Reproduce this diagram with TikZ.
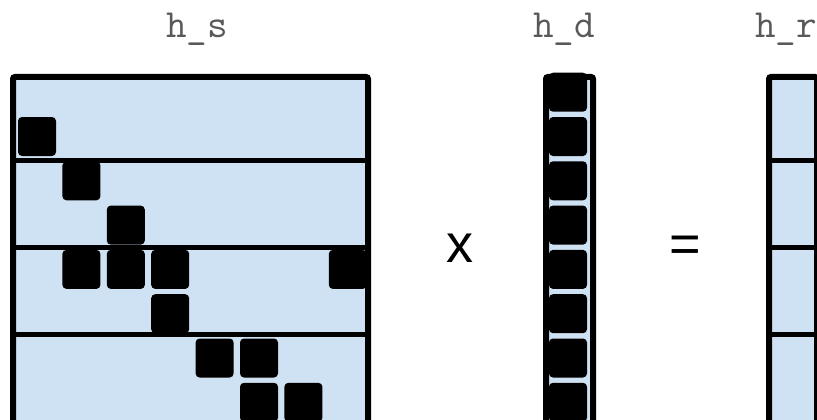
\documentclass[tikz,border=0pt]{standalone}
\usepackage{fontspec}
\newfontfamily\opsans{Liberation Sans}
\definecolor{cellblue}{HTML}{CFE2F3}
\tikzset{
  panelfill/.style={fill=cellblue},
  panelframe/.style={draw=black, line width=6pt, rounded corners=2pt},
  sepline/.style={draw=black, line width=5pt},
  blk/.style={fill=black, rounded corners=4pt},
  lbl/.style={font=\ttfamily\fontsize{40}{40}\selectfont, text=black!65, anchor=base, inner sep=0pt},
  opsym/.style={font=\opsans\fontsize{54}{54}\selectfont, text=black, anchor=base, inner sep=0pt},
}
\begin{document}
\begin{tikzpicture}[x=1pt,y=-1pt]
\useasboundingbox (0,0) rectangle (817,420);
\begin{scope}
\clip (0,0) rectangle (817,420);
% ---- matrix h_s ----
\path[panelfill] (13,77) rectangle (368,440);
\foreach \c/\r in {0/1,1/2,2/3,1/4,2/4,3/4,7/4,3/5,4/6,5/6,5/7,6/7}
  \path[blk] ({18+44.4*\c},{117+44.3*(\r-1)}) rectangle ++(38,39);
\foreach \yy in {160.5,247,334}
  \draw[sepline] (14,\yy) -- (367,\yy);
\draw[panelframe] (13,77) rectangle (368,440);
% ---- vector h_d ----
\path[panelfill] (546,77) rectangle (593,440);
\foreach \r in {0,...,7}
  \path[blk] (549,{117+44.3*(\r-1)}) rectangle ++(38,39);
\draw[panelframe] (546,77) rectangle (593,440);
% ---- vector h_r ----
\path[panelfill] (769,77) rectangle (817,440);
\foreach \yy in {160.5,247,334}
  \draw[sepline] (770,\yy) -- (817,\yy);
\draw[panelframe] (769,77) rectangle (817,440);
\end{scope}
% ---- labels ----
\node[lbl] (hs) at (197,38) {h\_s};
\node[lbl] (hd) at (564,38) {h\_d};
\node[lbl] (hr) at (786,38) {h\_r};
\node[opsym] (times) at (460,262) {x};
\node[opsym] (eq) at (685,262) {=};
\end{tikzpicture}
\end{document}
